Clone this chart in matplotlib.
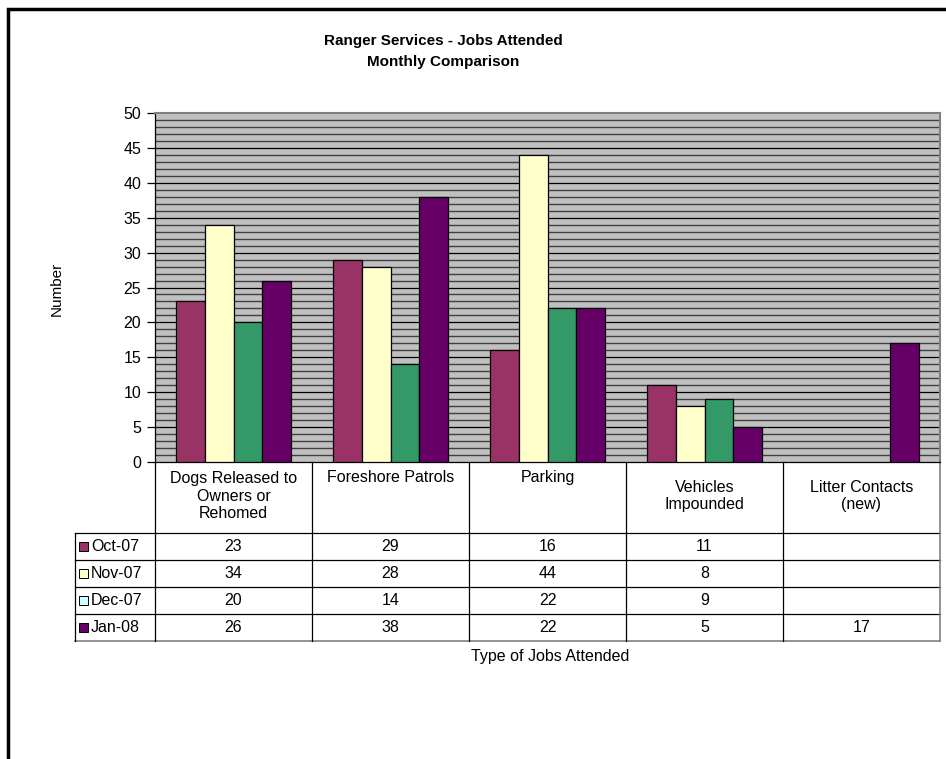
import matplotlib.pyplot as plt
from matplotlib.patches import Rectangle
from matplotlib.transforms import blended_transform_factory

categories = ["Dogs Released to\nOwners or\nRehomed", "Foreshore Patrols", "Parking",
              "Vehicles\nImpounded", "Litter Contacts\n(new)"]
months = ["Oct-07", "Nov-07", "Dec-07", "Jan-08"]
oct_07 = [23, 29, 16, 11, None]
nov_07 = [34, 28, 44, 8, None]
dec_07 = [20, 14, 22, 9, None]
jan_08 = [26, 38, 22, 5, 17]
series = [oct_07, nov_07, dec_07, jan_08]

bar_colors = ['#993366', '#FFFFCC', '#339966', '#660066']
key_colors = ['#993366', '#FFFFCC', '#CCFFFF', '#660066']

plt.rcParams['font.family'] = ['Liberation Sans', 'DejaVu Sans']

W, H = 946, 759
fig = plt.figure(figsize=(W / 100, H / 100), dpi=100)


def box(x0, y0, x1, y1):
    # pixel box (top-left origin) -> figure fraction rect
    return [x0 / W, 1 - y1 / H, (x1 - x0) / W, (y1 - y0) / H]


# plot area in pixels
PL, PT, PR, PB = 155, 113, 940, 462
ax = fig.add_axes(box(PL, PT, PR, PB))
ax.set_facecolor('#C0C0C0')
ax.set_xlim(-0.5, len(categories) - 0.5)
ax.set_ylim(0, 50)

# striped fill plus major gridlines
for v in range(1, 50):
    if v % 5 == 0:
        ax.axhline(v, color='black', lw=0.9, zorder=1)
    else:
        ax.axhline(v, color='#404040', lw=1.0, zorder=1)

n = len(series)
bw = 1 / (n + 1.5)
for j, vals in enumerate(series):
    xs = [i + (j - (n - 1) / 2) * bw for i, v in enumerate(vals) if v is not None]
    hs = [v for v in vals if v is not None]
    ax.bar(xs, hs, width=bw, color=bar_colors[j], edgecolor='black', lw=0.9, zorder=3)

ax.set_yticks(range(0, 51, 5))
ax.set_xticks([])
ax.tick_params(axis='y', direction='out', length=6, width=0.9, labelsize=11.5, pad=4)
for s in ['top', 'right']:
    ax.spines[s].set_color('#808080')
    ax.spines[s].set_linewidth(1.5)
ax.spines['left'].set_linewidth(0.9)
ax.spines['bottom'].set_linewidth(0.9)

# data table under the axis
ph = PB - PT
pw = PR - PL


def ay(p):
    return (PB - p) / ph


def axx(p):
    return (p - PL) / pw


FS = 11.5
row_lines = [533, 560, 587, 614, 641]
tleft = 75
ta = ax.transAxes
kw = dict(transform=ta, clip_on=False)
for k, yl in enumerate(row_lines):
    col = '#808080' if k == len(row_lines) - 1 else 'black'
    ax.plot([axx(tleft), 1], [ay(yl), ay(yl)], color=col, lw=1.2 if col != 'black' else 0.9, **kw)
for i in range(len(categories) + 1):
    col = '#808080' if i == len(categories) else 'black'
    ax.plot([i / len(categories)] * 2, [0, ay(row_lines[-1])], color=col,
            lw=1.2 if col != 'black' else 0.9, **kw)
ax.plot([axx(tleft)] * 2, [ay(row_lines[0]), ay(row_lines[-1])], color='black', lw=0.9, **kw)

bt = blended_transform_factory(ax.transData, ax.transAxes)
for i, c in enumerate(categories):
    yc = 496 if '\n' in c else 477
    ax.text(i, ay(yc), c, transform=bt, ha='center', va='center', fontsize=FS,
            linespacing=1.2, clip_on=False)

for j, (m, vals) in enumerate(zip(months, series)):
    yc = (row_lines[j] + row_lines[j + 1]) / 2
    ax.add_patch(Rectangle((axx(79), ay(yc + 4.5)), 9 / pw, 9 / ph, transform=ta,
                           facecolor=key_colors[j], edgecolor='black', lw=0.7, clip_on=False))
    ax.text(axx(91), ay(yc), m, transform=ta, ha='left', va='center', fontsize=FS, clip_on=False)
    for i, v in enumerate(vals):
        if v is not None:
            ax.text(i, ay(yc), str(v), transform=bt, ha='center', va='center', fontsize=FS,
                    clip_on=False)

fig.text(443 / W, 1 - 41 / H, "Ranger Services - Jobs Attended", ha='center', va='center',
         fontsize=11, fontweight='bold')
fig.text(443 / W, 1 - 62 / H, "Monthly Comparison", ha='center', va='center',
         fontsize=11, fontweight='bold')
fig.text(57 / W, 1 - 289 / H, "Number", rotation=90, ha='center', va='center', fontsize=11)
fig.text(550 / W, 1 - 657 / H, "Type of Jobs Attended", ha='center', va='center', fontsize=FS)

# chart border, running off the right and bottom edges
fig.add_artist(Rectangle((8 / W, -0.5), 1.2, 1.5 - 9 / H, transform=fig.transFigure,
                         fill=False, edgecolor='black', lw=2.5))

fig.savefig('out.png', dpi=100, facecolor='white')
